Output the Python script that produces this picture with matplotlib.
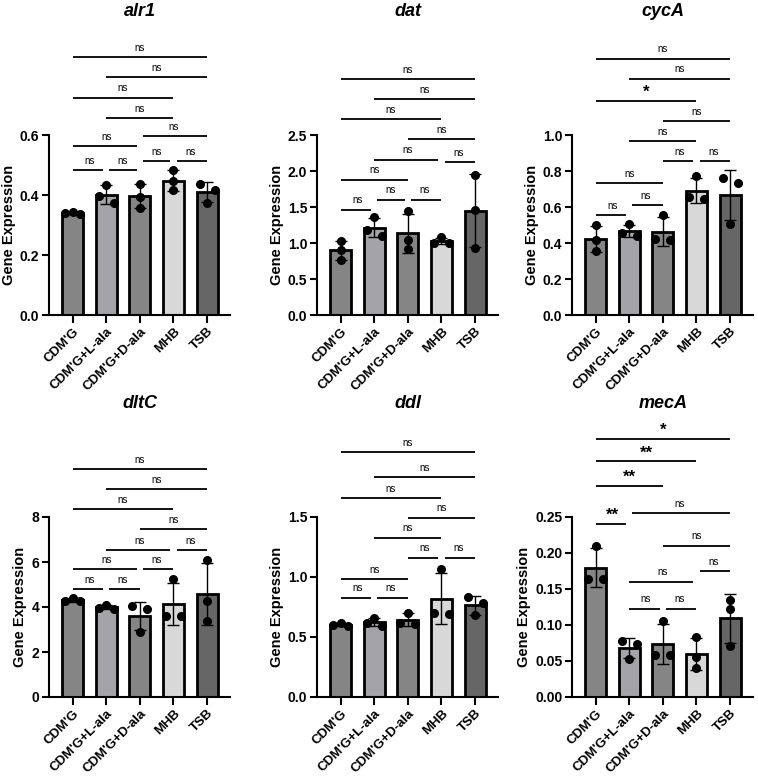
import numpy as np
import matplotlib
matplotlib.use('Agg')
import matplotlib.pyplot as plt
from matplotlib.transforms import blended_transform_factory

plt.rcParams['font.family'] = ['Liberation Sans', 'DejaVu Sans']

# Groups and bar colours
groups = ["CDM'G", "CDM'G+L-ala", "CDM'G+D-ala", "MHB", "TSB"]
bar_colors = ['#858585', '#a4a4a8', '#858585', '#d8d8d8', '#666666']

# Replicate values (3 per group)
alr1_vals = [[0.337, 0.341, 0.343], [0.434, 0.396, 0.372], [0.437, 0.393, 0.358],
             [0.483, 0.446, 0.416], [0.437, 0.418, 0.373]]
dat_vals = [[1.03, 0.90, 0.76], [1.356, 1.10, 1.175], [1.44, 1.047, 0.92],
            [1.08, 1.00, 1.00], [1.946, 1.462, 0.932]]
cyca_vals = [[0.499, 0.417, 0.356], [0.505, 0.44, 0.455], [0.555, 0.42, 0.415],
             [0.774, 0.655, 0.645], [0.761, 0.733, 0.508]]
dltc_vals = [[4.40, 4.28, 4.25], [4.10, 3.93, 3.95], [4.04, 3.90, 2.90],
             [5.23, 3.60, 3.60], [6.09, 4.28, 3.39]]
ddl_vals = [[0.62, 0.59, 0.60], [0.66, 0.619, 0.59], [0.704, 0.619, 0.61],
            [1.066, 0.70, 0.69], [0.831, 0.78, 0.68]]
meca_vals = [[0.2104, 0.164, 0.164], [0.0773, 0.0741, 0.0525], [0.106, 0.058, 0.058],
             [0.0833, 0.0557, 0.0396], [0.1354, 0.1225, 0.0709]]

# Pairwise comparisons shown above the bars
pairs = [(0, 1), (1, 2), (2, 3), (3, 4), (0, 2), (1, 3), (2, 4), (0, 3), (1, 4), (0, 4)]
alr1_sig = ['ns'] * 10
dat_sig = ['ns'] * 10
cyca_sig = ['ns'] * 7 + ['*'] + ['ns'] * 2
dltc_sig = ['ns'] * 10
ddl_sig = ['ns'] * 10
meca_sig = ['**', 'ns', 'ns', 'ns', '**', 'ns', 'ns', '**', 'ns', '*']

# bracket heights (data units), same order as pairs
alr1_lvl = [0.482, 0.482, 0.512, 0.512, 0.563, 0.657, 0.597, 0.725, 0.792, 0.859]
dat_lvl = [1.462, 1.600, 1.600, 2.122, 1.877, 2.158, 2.440, 2.720, 2.997, 3.273]
cyca_lvl = [0.555, 0.610, 0.854, 0.854, 0.733, 0.965, 1.076, 1.188, 1.312, 1.423]
dltc_lvl = [4.79, 4.79, 5.67, 6.53, 5.67, 6.53, 7.45, 8.36, 9.24, 10.13]
ddl_lvl = [0.826, 0.826, 1.162, 1.162, 0.983, 1.328, 1.494, 1.659, 1.831, 2.041]
meca_lvl = [0.2399, 0.1225, 0.1225, 0.175, 0.2928, 0.1602, 0.2104, 0.3273, 0.2555, 0.3587]

W, H = 758, 777
AX_H = 285      # axes height in px
SPINE_H = 180   # px from 0 to the top y tick


def spread(values, ppu, d=0.22, thr=8):
    # offsets for points that would overlap, like a small beeswarm
    order = np.argsort(values)[::-1]
    offsets = np.zeros(len(values))
    clusters = []
    for idx in order:
        if clusters and (values[clusters[-1][-1]] - values[idx]) * ppu < thr:
            clusters[-1].append(idx)
        else:
            clusters.append([idx])
    for c in clusters:
        offs = {1: [0], 2: [-d, d], 3: [0, -d, d]}[len(c)]
        for i, o in zip(c, offs):
            offsets[i] = o
    return offsets


def draw_panel(fig, left_px, bottom_px, title, vals, ticks, fmt, sig, lvl):
    ax = fig.add_axes([left_px / W, 1 - bottom_px / H, 181 / W, AX_H / H])
    vals = np.array(vals)
    x = np.arange(len(groups))
    means = vals.mean(axis=1)
    sds = vals.std(axis=1, ddof=1)
    tmax = ticks[-1]
    ytop = tmax * AX_H / SPINE_H
    ppu = AX_H / ytop

    ax.bar(x, means, width=0.62, color=bar_colors, edgecolor='black', linewidth=2, zorder=2)
    ax.errorbar(x, means, yerr=sds, fmt='none', ecolor='black', elinewidth=1,
                capsize=4.5, capthick=1, zorder=3)
    for i in x:
        ax.plot(i + spread(vals[i], ppu), vals[i], 'o', color='black', ms=5.5, zorder=4)

    ax.set_xlim(-0.7, 4.68)
    ax.set_ylim(0, ytop)
    ax.spines['top'].set_visible(False)
    ax.spines['right'].set_visible(False)
    ax.spines['left'].set_bounds(0, tmax)
    ax.spines['left'].set_linewidth(1.5)
    ax.spines['bottom'].set_linewidth(1.5)
    ax.tick_params(axis='both', width=1.5, length=5, pad=2)
    ax.tick_params(axis='x', length=5.5, pad=2)
    ax.set_yticks(ticks, labels=[fmt % t for t in ticks], fontsize=10, fontweight='bold')
    ax.set_xticks(x, labels=groups, rotation=45, ha='right', rotation_mode='anchor',
                  fontsize=9.5, fontweight='bold')
    ax.set_ylabel('Gene Expression', fontsize=10.5, fontweight='bold', labelpad=3)
    ax.yaxis.label.set_y(SPINE_H / 2 / AX_H)

    # significance brackets
    gap = 0.09
    for (i, j), lab, y in zip(pairs, sig, lvl):
        x0, x1 = i, j
        for (i2, j2), y2 in zip(pairs, lvl):
            if abs(y2 - y) * ppu < 11.5:
                if j2 == i:
                    x0 = i + gap
                if i2 == j:
                    x1 = j - gap
        ax.plot([x0, x1], [y, y], color='black', lw=1.3, clip_on=False,
                solid_capstyle='butt')
        star = '*' in lab
        ax.annotate(lab, xy=((i + j) / 2, y), xytext=(0, 2.9 if star else 4.6),
                    textcoords='offset points', ha='center', va='baseline',
                    fontsize=12 if star else 7, fontweight='bold' if star else 'normal',
                    annotation_clip=False)

    tr = blended_transform_factory(ax.transData, fig.transFigure)
    title_y = 12 if bottom_px < 400 else 403.5
    ax.text(2, 1 - title_y / H, title, transform=tr, ha='center', va='center',
            fontsize=13, fontweight='bold', style='italic')
    return ax


fig = plt.figure(figsize=(W / 100, H / 100), dpi=100)

draw_panel(fig, 49, 315, 'alr1', alr1_vals, [0, 0.2, 0.4, 0.6], '%.1f', alr1_sig, alr1_lvl)
draw_panel(fig, 317, 315, 'dat', dat_vals, [0, 0.5, 1.0, 1.5, 2.0, 2.5], '%.1f', dat_sig, dat_lvl)
draw_panel(fig, 572, 315, 'cycA', cyca_vals, [0, 0.2, 0.4, 0.6, 0.8, 1.0], '%.1f', cyca_sig, cyca_lvl)
draw_panel(fig, 49, 697, 'dltC', dltc_vals, [0, 2, 4, 6, 8], '%d', dltc_sig, dltc_lvl)
draw_panel(fig, 317, 697, 'ddl', ddl_vals, [0, 0.5, 1.0, 1.5], '%.1f', ddl_sig, ddl_lvl)
draw_panel(fig, 572, 697, 'mecA', meca_vals, [0, 0.05, 0.10, 0.15, 0.20, 0.25], '%.2f', meca_sig, meca_lvl)

fig.savefig('out.png', dpi=100)
